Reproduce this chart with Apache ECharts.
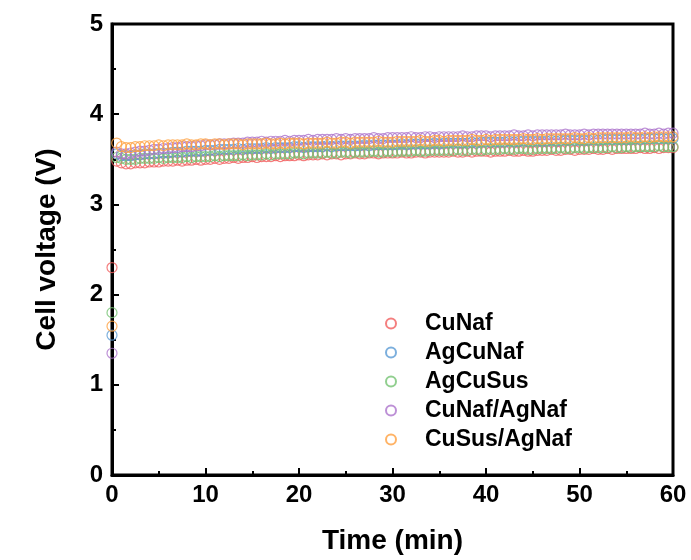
<!DOCTYPE html>
<html>
<head>
<meta charset="utf-8">
<script src="https://cdn.jsdelivr.net/npm/echarts@6/dist/echarts.min.js"></script>
<style>
html,body{margin:0;padding:0;background:#fff;}
#chart{width:691px;height:560px;}
</style>
</head>
<body>
<div id="chart"></div>
<script>
/* 时间 (min) */
var timeMin = [
	0,0.5,1,1.5,2,2.5,3,3.5,4,4.5,
	5,5.5,6,6.5,7,7.5,8,8.5,9,9.5,
	10,10.5,11,11.5,12,12.5,13,13.5,14,14.5,
	15,15.5,16,16.5,17,17.5,18,18.5,19,19.5,
	20,20.5,21,21.5,22,22.5,23,23.5,24,24.5,
	25,25.5,26,26.5,27,27.5,28,28.5,29,29.5,
	30,30.5,31,31.5,32,32.5,33,33.5,34,34.5,
	35,35.5,36,36.5,37,37.5,38,38.5,39,39.5,
	40,40.5,41,41.5,42,42.5,43,43.5,44,44.5,
	45,45.5,46,46.5,47,47.5,48,48.5,49,49.5,
	50,50.5,51,51.5,52,52.5,53,53.5,54,54.5,
	55,55.5,56,56.5,57,57.5,58,58.5,59,59.5,
	60
];
var seriesNames = ['CuNaf','AgCuNaf','AgCuSus','CuNaf/AgNaf','CuSus/AgNaf'];
var seriesColors = ['#F15F5F','#5B9BD5','#76C373','#AC74CC','#FFA040'];

var vCuNaf = [
	2.30,3.48,3.46,3.45,3.45,3.46,3.46,3.46,3.47,3.47,
	3.47,3.48,3.48,3.48,3.49,3.48,3.49,3.49,3.50,3.49,
	3.50,3.50,3.51,3.50,3.51,3.51,3.52,3.51,3.52,3.52,
	3.53,3.52,3.53,3.53,3.53,3.54,3.53,3.54,3.54,3.54,
	3.55,3.54,3.55,3.55,3.55,3.56,3.55,3.56,3.56,3.55,
	3.56,3.56,3.57,3.56,3.56,3.57,3.57,3.56,3.57,3.57,
	3.57,3.57,3.58,3.57,3.57,3.58,3.58,3.57,3.58,3.58,
	3.58,3.58,3.58,3.59,3.58,3.58,3.59,3.58,3.59,3.59,
	3.59,3.58,3.59,3.59,3.59,3.60,3.59,3.59,3.60,3.59,
	3.59,3.60,3.60,3.60,3.61,3.60,3.60,3.61,3.61,3.60,
	3.61,3.61,3.61,3.62,3.61,3.61,3.62,3.61,3.62,3.62,
	3.62,3.62,3.62,3.63,3.62,3.62,3.63,3.62,3.63,3.63,
	3.63
];
var vAgCuNaf = [
	1.55,3.56,3.54,3.54,3.54,3.55,3.55,3.56,3.56,3.56,
	3.57,3.57,3.57,3.58,3.58,3.58,3.59,3.59,3.59,3.59,
	3.60,3.60,3.60,3.61,3.61,3.61,3.61,3.62,3.61,3.62,
	3.62,3.62,3.62,3.63,3.62,3.63,3.63,3.63,3.63,3.64,
	3.64,3.63,3.64,3.64,3.64,3.64,3.65,3.64,3.65,3.65,
	3.65,3.65,3.65,3.65,3.66,3.65,3.66,3.66,3.66,3.66,
	3.66,3.66,3.67,3.66,3.67,3.67,3.67,3.67,3.67,3.68,
	3.67,3.68,3.68,3.68,3.68,3.68,3.68,3.69,3.68,3.69,
	3.69,3.69,3.69,3.69,3.69,3.70,3.69,3.70,3.70,3.70,
	3.70,3.70,3.70,3.70,3.71,3.70,3.71,3.71,3.71,3.71,
	3.71,3.71,3.71,3.72,3.71,3.72,3.72,3.72,3.72,3.72,
	3.72,3.72,3.73,3.72,3.73,3.73,3.73,3.73,3.73,3.73,
	3.73
];
var vAgCuSus = [
	1.80,3.52,3.51,3.50,3.50,3.50,3.51,3.51,3.51,3.51,
	3.52,3.51,3.52,3.52,3.52,3.52,3.53,3.52,3.53,3.53,
	3.53,3.53,3.54,3.53,3.54,3.54,3.54,3.54,3.55,3.54,
	3.55,3.55,3.55,3.56,3.55,3.56,3.56,3.56,3.56,3.57,
	3.57,3.56,3.57,3.57,3.57,3.57,3.58,3.57,3.57,3.58,
	3.58,3.57,3.58,3.58,3.58,3.58,3.59,3.58,3.58,3.59,
	3.58,3.59,3.59,3.59,3.59,3.60,3.59,3.59,3.60,3.60,
	3.60,3.60,3.60,3.60,3.61,3.60,3.60,3.61,3.61,3.60,
	3.61,3.61,3.61,3.61,3.62,3.61,3.61,3.62,3.62,3.61,
	3.61,3.62,3.62,3.62,3.62,3.62,3.63,3.62,3.62,3.63,
	3.63,3.62,3.63,3.63,3.63,3.63,3.63,3.64,3.63,3.63,
	3.64,3.63,3.64,3.64,3.64,3.64,3.64,3.65,3.64,3.64,
	3.64
];
var vCuNafAgNaf = [
	1.35,3.58,3.56,3.56,3.57,3.58,3.59,3.59,3.60,3.61,
	3.61,3.62,3.62,3.63,3.63,3.64,3.64,3.64,3.65,3.65,
	3.66,3.66,3.66,3.67,3.67,3.67,3.68,3.68,3.68,3.69,
	3.69,3.69,3.70,3.69,3.70,3.70,3.70,3.71,3.70,3.71,
	3.71,3.71,3.72,3.71,3.72,3.72,3.72,3.72,3.73,3.72,
	3.73,3.72,3.73,3.73,3.73,3.73,3.74,3.73,3.73,3.74,
	3.74,3.74,3.74,3.74,3.75,3.74,3.74,3.75,3.75,3.74,
	3.75,3.75,3.75,3.75,3.75,3.76,3.75,3.75,3.76,3.76,
	3.76,3.75,3.76,3.76,3.76,3.76,3.77,3.76,3.76,3.77,
	3.76,3.77,3.77,3.77,3.77,3.77,3.77,3.78,3.77,3.77,
	3.77,3.78,3.77,3.78,3.78,3.78,3.78,3.78,3.78,3.78,
	3.78,3.78,3.78,3.78,3.79,3.78,3.78,3.79,3.78,3.79,
	3.79
];
var vCuSusAgNaf = [
	1.65,3.68,3.64,3.63,3.63,3.64,3.64,3.65,3.65,3.65,
	3.66,3.65,3.66,3.66,3.66,3.66,3.67,3.66,3.66,3.67,
	3.67,3.66,3.67,3.67,3.66,3.67,3.67,3.67,3.66,3.67,
	3.67,3.67,3.67,3.68,3.67,3.67,3.68,3.67,3.68,3.68,
	3.68,3.67,3.68,3.68,3.68,3.68,3.69,3.68,3.68,3.69,
	3.69,3.68,3.69,3.69,3.69,3.69,3.69,3.70,3.69,3.69,
	3.69,3.70,3.70,3.70,3.70,3.70,3.71,3.70,3.70,3.71,
	3.71,3.70,3.71,3.71,3.71,3.71,3.71,3.72,3.71,3.71,
	3.72,3.71,3.72,3.72,3.72,3.72,3.72,3.72,3.73,3.72,
	3.72,3.73,3.72,3.73,3.73,3.73,3.73,3.73,3.73,3.74,
	3.73,3.73,3.74,3.73,3.74,3.74,3.74,3.74,3.74,3.74,
	3.74,3.75,3.74,3.74,3.75,3.74,3.75,3.75,3.75,3.75,
	3.75
];
var allValues = [vCuNaf,vAgCuNaf,vAgCuSus,vCuNafAgNaf,vCuSusAgNaf];

/* 组装散点数据 */
function pairs(vals){
	var arr = [];
	for(var i=0;i<vals.length;i++){
		arr.push([timeMin[i],vals[i]]);
	}
	return arr;
}
var seriesList = [];
for(var k=0;k<seriesNames.length;k++){
	seriesList.push({
		name:seriesNames[k],
		type:'scatter',
		symbol:'circle',
		symbolSize:10,
		data:pairs(allValues[k]),
		itemStyle:{
			color:'rgba(255,255,255,0)',
			borderColor:seriesColors[k],
			borderWidth:1.2
		}
	});
}

var fontFam = '"Liberation Sans", Arial, sans-serif';
var myChart = echarts.init(document.getElementById('chart'));
var option = {
	animation:false,
	backgroundColor:'#fff',
	grid:{
		left:112,
		right:18,
		top:24,
		bottom:84,
		show:true,
		borderColor:'#000',
		borderWidth:3
	},
	legend:{
		orient:'vertical',
		left:380,
		top:307,
		itemWidth:10,
		itemHeight:10,
		itemGap:6,
		icon:'circle',
		data:seriesNames,
		textStyle:{
			fontFamily:fontFam,
			fontWeight:'bold',
			fontSize:23,
			lineHeight:23,
			color:'#000',
			padding:[0,0,0,24]
		}
	},
	xAxis:{
		type:'value',
		min:0,
		max:60,
		interval:10,
		name:'Time (min)',
		nameLocation:'middle',
		nameGap:52,
		nameTextStyle:{fontFamily:fontFam,fontWeight:'bold',fontSize:28,color:'#000'},
		axisLine:{lineStyle:{color:'#000',width:3}},
		axisTick:{inside:true,length:7,lineStyle:{color:'#000',width:2}},
		minorTick:{show:true,splitNumber:2,length:4,lineStyle:{color:'#000',width:2}},
		splitLine:{show:false},
		axisLabel:{fontFamily:fontFam,fontWeight:'bold',fontSize:24,color:'#000',margin:8}
	},
	yAxis:{
		type:'value',
		min:0,
		max:5,
		interval:1,
		name:'Cell voltage (V)',
		nameLocation:'middle',
		nameGap:51,
		nameTextStyle:{fontFamily:fontFam,fontWeight:'bold',fontSize:28,color:'#000'},
		axisLine:{lineStyle:{color:'#000',width:3}},
		axisTick:{inside:true,length:7,lineStyle:{color:'#000',width:2}},
		minorTick:{show:true,splitNumber:2,length:4,lineStyle:{color:'#000',width:2}},
		splitLine:{show:false},
		axisLabel:{fontFamily:fontFam,fontWeight:'bold',fontSize:24,color:'#000',margin:9}
	},
	series:seriesList
};
myChart.setOption(option);
</script>
</body>
</html>
